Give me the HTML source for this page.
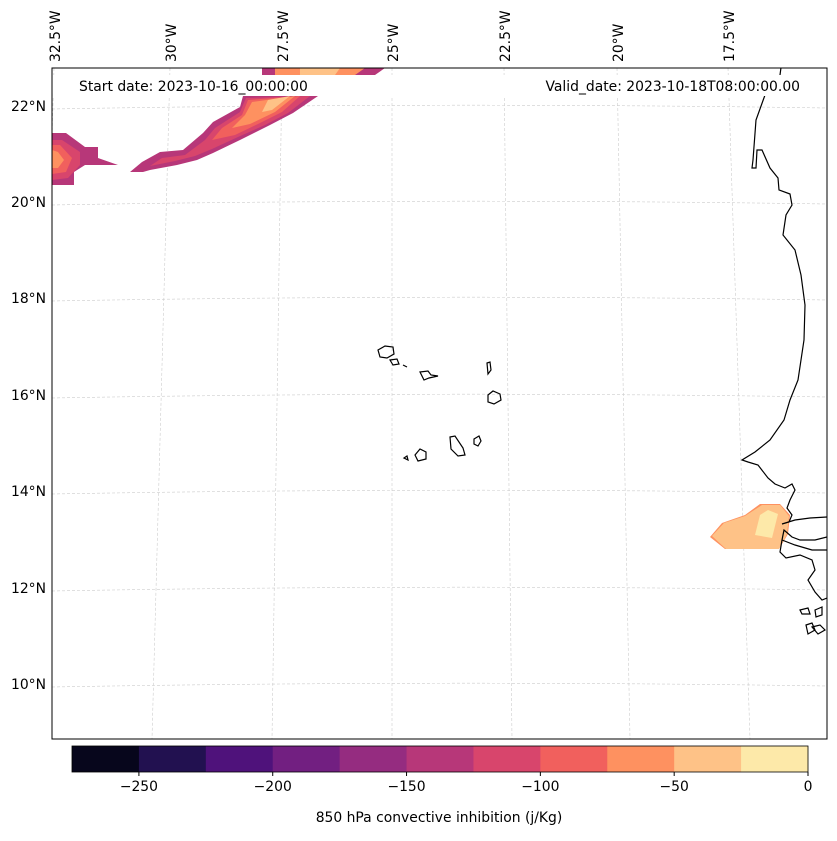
<!DOCTYPE html>
<html><head><meta charset="utf-8"><style>
body{margin:0;background:#fff;font-family:"Liberation Sans","DejaVu Sans",sans-serif;}
svg text{font-family:"DejaVu Sans","Liberation Sans",sans-serif;font-size:13.9px;fill:#000}
</style></head><body>
<svg id="chart" width="837" height="836" viewBox="0 0 837 836">
<defs><clipPath id="mapclip"><rect x="52" y="68" width="775" height="671"/></clipPath></defs>
<g id="map" clip-path="url(#mapclip)"></g>
<rect x="52" y="68" width="775" height="671" fill="none" stroke="#000" stroke-width="1"/>
<g id="labels"></g>
<g id="cbar"></g>
<text x="439" y="822" text-anchor="middle">850 hPa convective inhibition (j/Kg)</text>
</svg>
<script>
const levels=[-275,-250,-225,-200,-175,-150,-125,-100,-75,-50,-25,0];
const colors=["#07061c","#221150","#4f127b","#721f81","#952c80","#b73779","#d8456c","#f1605d","#fe9160","#fec287","#fde9a9"];
const cbTicks=[-250,-200,-150,-100,-50,0];
const lonLabels=["32.5°W","30°W","27.5°W","25°W","22.5°W","20°W","17.5°W"];
const lonTop=[54,170,282,392,504,617,728];
const lonBot=[35,152,272,392,512,630,750];
const latLabels=["22°N","20°N","18°N","16°N","14°N","12°N","10°N"];
const latY=[106,202,298,395,491,588,684];
const NS="http://www.w3.org/2000/svg";
function mk(tag,attrs,parent){const e=document.createElementNS(NS,tag);for(const k in attrs)e.setAttribute(k,attrs[k]);parent.appendChild(e);return e;}
const map=document.getElementById('map'),lab=document.getElementById('labels'),cb=document.getElementById('cbar');
lonTop.forEach((x,i)=>{const l=mk('line',{x1:x,y1:68,x2:lonBot[i],y2:739,stroke:'#ccc','stroke-width':0.6,'stroke-dasharray':'3,2'},map);

const t=mk('text',{transform:`translate(${x+6},62) rotate(-90)`},lab);t.textContent=lonLabels[i];
});
latY.forEach((y,i)=>{const p=mk('path',{d:`M52 ${y+3} Q440 ${y-4} 827 ${y+2}`,fill:'none',stroke:'#ccc','stroke-width':0.6,'stroke-dasharray':'3,2'},map);

const t=mk('text',{x:46,y:y+5,'text-anchor':'end'},lab);t.textContent=latLabels[i];
});
const shapes=[
[5,"52,133 66,133 85,147 98,147 98,158 118,165 85,165 74,172 74,185 52,185"],
[6,"52,140 62,140 80,152 80,165 68,178 52,180"],
[7,"52,145 60,145 72,158 66,172 52,174"],
[8,"52,150 58,152 64,160 58,168 52,168"],
[5,"130,172 142,162 160,152 183,150 203,133 213,122 240,107 243,96 318,96 293,113 270,125 240,140 213,153 197,160 177,165 150,170 143,172"],
[6,"150,166 162,158 185,155 205,140 215,128 240,112 246,98 310,96 288,113 265,125 238,137 212,149 195,156 175,161"],
[7,"212,140 222,128 242,115 248,100 300,96 282,112 258,124 235,135"],
[8,"232,128 245,115 252,102 295,96 275,112 250,124"],
[9,"262,112 268,100 290,96 272,110"],
[5,"262,68 385,68 375,75 262,75"],
[8,"275,68 365,68 355,75 275,75"],
[9,"300,68 340,68 335,75 300,75"],
[8,"710,537 722,523 745,515 760,504 780,504 790,515 788,534 779,549 725,549"],
[9,"712,536 724,523 745,516 762,505 780,505 789,516 787,534 779,549 726,549"],
[10,"755,535 760,515 768,510 778,514 772,538"]];
shapes.forEach(s=>{const p=mk('polygon',{points:s[1],fill:colors[s[0]]},map);
});
const coasts=["782,60 780,75 765,95 756,120 753,160 752,168 756,168 757,150 762,150 770,168 778,178 779,190 790,194 792,205 786,215 783,235 795,250 801,275 805,305 804,340 798,380 790,400 784,420 770,440 755,452 742,460 748,462 758,465 768,478 775,484 785,488 792,484 795,490 790,500 787,508 792,515 789,522 782,524 795,520 810,518 827,517",
"827,537 815,540 800,540 792,537 784,530 782,540 780,552 786,558 800,555 812,560 815,570 808,580 815,592 822,600 827,598",
"782,540 795,545 812,550 827,550"];
coasts.forEach(c=>{const p=mk('polyline',{points:c,fill:'none',stroke:'#000','stroke-width':1.2},map);
});
const islands=["378,350 385,346 393,347 394,354 387,358 380,357","390,360 397,359 399,364 393,365","403,365 407,367","420,372 428,371 431,375 438,376 429,378 424,380","487,363 490,362 491,370 488,374","488,395 493,391 500,394 501,400 494,404 488,402","415,455 420,449 426,452 426,459 418,461","450,437 455,436 463,448 465,455 458,456 451,449","474,439 479,436 481,441 478,446 474,444","404,458 407,456 408,460","800,610 808,608 810,614 802,614","815,610 822,607 822,615 816,617","806,625 812,623 815,630 808,634","812,627 820,625 825,630 818,634"];
islands.forEach(c=>{const p=mk('polygon',{points:c,fill:'none',stroke:'#000','stroke-width':1.2},map);
});
const wb=mk('rect',{x:53,y:75,width:773,height:21,fill:'#fff'},map);

const t1=mk('text',{x:79,y:91},document.getElementById('chart'));t1.textContent="Start date: 2023-10-16_00:00:00";

const t2=mk('text',{x:800,y:91,'text-anchor':'end'},document.getElementById('chart'));t2.textContent="Valid_date: 2023-10-18T08:00:00.00";

const cx0=72,cx1=808,cy=746,ch=26;
const xs=v=>cx0+(v-levels[0])/(levels[levels.length-1]-levels[0])*(cx1-cx0);
colors.forEach((c,i)=>{const r=mk('rect',{x:xs(levels[i]),y:cy,width:xs(levels[i+1])-xs(levels[i])+0.5,height:ch,fill:c},cb);
});
mk('rect',{x:cx0,y:cy,width:cx1-cx0,height:ch,fill:'none',stroke:'#000','stroke-width':0.8},cb);
cbTicks.forEach(v=>{mk('line',{x1:xs(v),y1:cy+ch,x2:xs(v),y2:cy+ch+4,stroke:'#000'},cb);
const t=mk('text',{x:xs(v),y:cy+ch+19,'text-anchor':'middle'},cb);t.textContent=v<0?'\u2212'+(-v):String(v);
});
</script>
</body></html>
